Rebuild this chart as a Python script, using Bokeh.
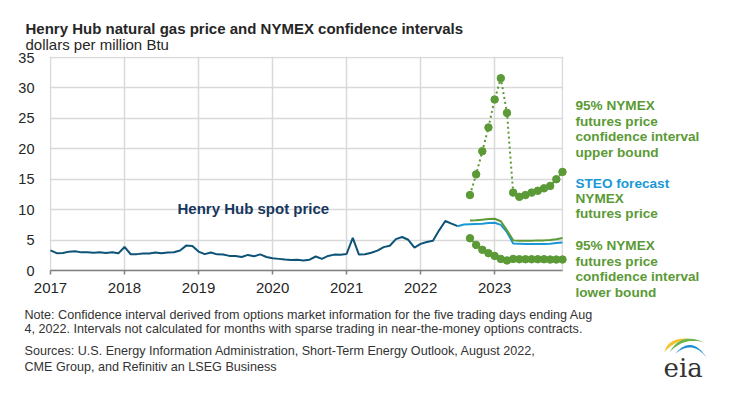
from bokeh.plotting import figure
from bokeh.models import Range1d, FixedTicker, Label, BoxAnnotation
from bokeh.embed import file_html
from bokeh.resources import INLINE

# ---------------- data ----------------
title_text = "Henry Hub natural gas price and NYMEX confidence intervals"
subtitle_text = "dollars per million Btu"
year_labels = ["2017", "2018", "2019", "2020", "2021", "2022", "2023"]
y_ticks = [0, 5, 10, 15, 20, 25, 30, 35]

# Henry Hub spot price, monthly, Jan 2017 - Jul 2022
spot_price = [
    3.30, 2.85, 2.88, 3.10, 3.15, 2.98, 2.98, 2.90, 2.98, 2.88, 3.01, 2.82,
    3.87, 2.67, 2.69, 2.80, 2.80, 2.97, 2.83, 2.96, 3.00, 3.28, 4.09, 4.04,
    3.11, 2.69, 2.95, 2.65, 2.64, 2.40, 2.37, 2.22, 2.56, 2.33, 2.65, 2.22,
    2.02, 1.91, 1.79, 1.74, 1.75, 1.63, 1.77, 2.30, 1.92, 2.39, 2.61, 2.59,
    2.71, 5.35, 2.62, 2.66, 2.91, 3.26, 3.84, 4.07, 5.16, 5.51, 5.05, 3.76,
    4.38, 4.69, 4.90, 6.60, 8.14, 7.70, 7.28,
]
# STEO forecast, Jul 2022 - Dec 2023
steo_forecast = [7.28, 7.55, 7.60, 7.65, 7.70, 7.80, 7.85, 7.50, 6.30,
                 4.45, 4.40, 4.35, 4.35, 4.35, 4.35, 4.40, 4.50, 4.60]
# NYMEX futures price, Sep 2022 - Dec 2023
nymex_futures = [8.20, 8.25, 8.35, 8.45, 8.50, 8.10, 6.60, 4.95,
                 4.90, 4.90, 4.90, 4.95, 4.95, 5.00, 5.15, 5.35]
# 95% confidence interval bounds, Sep 2022 - Dec 2023
upper_bound = [12.4, 15.8, 19.6, 23.5, 28.1, 31.6, 25.9, 12.8,
               12.1, 12.4, 12.8, 13.1, 13.5, 13.9, 15.0, 16.2]
lower_bound = [5.3, 4.2, 3.4, 2.85, 2.4, 1.9, 1.65, 1.9,
               1.85, 1.85, 1.85, 1.85, 1.85, 1.8, 1.8, 1.8]

note_lines = [
    "Note: Confidence interval derived from options market information for the five trading days ending Aug",
    "4, 2022. Intervals not calculated for months with sparse trading in near-the-money options contracts.",
]
source_lines = [
    "Sources: U.S. Energy Information Administration, Short-Term Energy Outlook, August 2022,",
    "CME Group, and Refinitiv an LSEG Business",
]
upper_label = ["95% NYMEX", "futures price", "confidence interval", "upper bound"]
mid_label_blue = ["STEO forecast"]
mid_label_green = ["NYMEX", "futures price"]
lower_label = ["95% NYMEX", "futures price", "confidence interval", "lower bound"]
spot_label = "Henry Hub spot price"
logo_text = "eia"

# month index (0 = Jan 2017)
spot_x = list(range(len(spot_price)))
steo_x = list(range(len(spot_price) - 1, len(spot_price) - 1 + len(steo_forecast)))
nymex_start = 68
nymex_x = list(range(nymex_start, nymex_start + len(nymex_futures)))
x_end = steo_x[-1]

# ---------------- styling / layout ----------------
DARK = "#0d5378"
BLUE = "#1a98d5"
GREEN = "#5b9a36"
GRID = "#d9d9d9"
TXT = "#262626"
NOTE = "#333333"
SANS = "Liberation Sans"

W, H = 740, 396
PLOT_L, PLOT_R = 50, 562        # page x of first and last month
PLOT_T, PLOT_B = 57, 270        # page y of top tick and zero line
px_per_month = (PLOT_R - PLOT_L) / x_end
px_per_unit = (PLOT_B - PLOT_T) / (y_ticks[-1] - y_ticks[0])
x_min = -PLOT_L / px_per_month
x_max = (W - PLOT_L) / px_per_month
y_max = y_ticks[-1] + PLOT_T / px_per_unit
y_min = y_ticks[0] - (H - PLOT_B) / px_per_unit


def dx(px):
    return x_min + px / px_per_month


def dy(py):
    return y_max - py / px_per_unit


p = figure(width=W, height=H, output_backend="svg", toolbar_location=None,
           title_location=None,
           x_range=Range1d(x_min, x_max), y_range=Range1d(y_min, y_max),
           min_border=0, min_border_left=0, min_border_right=0,
           min_border_top=0, min_border_bottom=0,
           background_fill_color="white", border_fill_color="white")
p.outline_line_color = None

year_ticks = [12 * i for i in range(len(year_labels))]
p.xaxis.fixed_location = y_ticks[0]
p.xaxis.ticker = FixedTicker(ticks=year_ticks)
p.xaxis.major_label_overrides = {t: l for t, l in zip(year_ticks, year_labels)}
p.xaxis.bounds = (0, x_end)
p.xaxis.axis_line_color = "#808080"
p.xaxis.axis_line_width = 1.5
p.xaxis.major_tick_line_color = "#808080"
p.xaxis.major_tick_line_width = 1.5
p.xaxis.major_tick_in = 0
p.xaxis.major_tick_out = 4
p.xaxis.minor_tick_line_color = None
p.xaxis.major_label_standoff = 8
p.xaxis.major_label_text_font = SANS
p.xaxis.major_label_text_font_size = "15px"
p.xaxis.major_label_text_color = TXT

p.yaxis.fixed_location = 0
p.yaxis.ticker = FixedTicker(ticks=y_ticks)
p.yaxis.bounds = (y_ticks[0], y_ticks[-1])
p.yaxis.axis_line_color = None
p.yaxis.major_tick_line_color = None
p.yaxis.minor_tick_line_color = None
p.yaxis.major_tick_in = 0
p.yaxis.major_tick_out = 0
p.yaxis.major_label_standoff = 16
p.yaxis.major_label_text_font = SANS
p.yaxis.major_label_text_font_size = "14.5px"
p.yaxis.major_label_text_color = TXT

p.xgrid.ticker = FixedTicker(ticks=year_ticks + [x_end])
p.ygrid.ticker = FixedTicker(ticks=y_ticks)
p.grid.grid_line_color = GRID
p.grid.grid_line_width = 1.5

# white masks so the grid only covers the plot area
pad_x = 0.75 / px_per_month
pad_y = 0.75 / px_per_unit
for kw in (dict(bottom=y_ticks[-1] + pad_y), dict(top=y_ticks[0] - pad_y),
           dict(right=0 - pad_x), dict(left=x_end + pad_x)):
    p.add_layout(BoxAnnotation(fill_color="white", fill_alpha=1, line_color=None,
                               level="underlay", **kw))

# ---------------- data glyphs ----------------
p.line(spot_x, spot_price, line_color=DARK, line_width=2)
p.line(steo_x, steo_forecast, line_color=BLUE, line_width=2)
p.line(nymex_x, nymex_futures, line_color=GREEN, line_width=2)
p.line(nymex_x, upper_bound, line_color=GREEN, line_width=2, line_dash="2 3")
p.scatter(nymex_x, upper_bound, size=7.5, fill_color=GREEN, line_color=GREEN)
p.line(nymex_x, lower_bound, line_color=GREEN, line_width=1.5)
p.scatter(nymex_x, lower_bound, size=7.5, fill_color=GREEN, line_color=GREEN)


# ---------------- texts (positions in page pixels) ----------------
def add_label(txt, px, py, size, color=TXT, bold=False, font=SANS):
    p.add_layout(Label(x=dx(px), y=dy(py), text=txt, text_font=font, text_font_size=size,
                       text_font_style="bold" if bold else "normal", text_color=color,
                       text_baseline="alphabetic", text_align="left"))


add_label(title_text, 25, 27.5, "15px", TXT, True)
add_label(subtitle_text, 25, 44, "15px", TXT)
add_label(spot_label, 177, 207.5, "15px", "#17375e", True)

for i, t in enumerate(upper_label):
    add_label(t, 575, 105 + 15.6 * i, "13.6px", GREEN, True)
add_label(mid_label_blue[0], 575, 183.3, "13.6px", BLUE, True)
for i, t in enumerate(mid_label_green):
    add_label(t, 575, 198.3 + 15 * i, "13.6px", GREEN, True)
for i, t in enumerate(lower_label):
    add_label(t, 575, 245 + 15.7 * i, "13.6px", GREEN, True)

NOTE_SIZE = "12.6px"
add_label(note_lines[0], 24, 314.3, NOTE_SIZE, NOTE)
add_label(note_lines[1], 24, 328.5, NOTE_SIZE, NOTE)
add_label(source_lines[0], 24, 350, NOTE_SIZE, NOTE)
add_label(source_lines[1], 24, 366, NOTE_SIZE, NOTE)
add_label(logo_text, 663, 367, "26px", "#333333", False, "DejaVu Serif")


def swoosh(p0, c_in, c_out, p2, color, n=16):
    pts_out, pts_in = [], []
    for k in range(n + 1):
        t = k / n
        for c, acc in ((c_out, pts_out), (c_in, pts_in)):
            bx = (1 - t) ** 2 * p0[0] + 2 * (1 - t) * t * c[0] + t ** 2 * p2[0]
            by = (1 - t) ** 2 * p0[1] + 2 * (1 - t) * t * c[1] + t ** 2 * p2[1]
            acc.append((dx(bx), dy(by)))
    pts = pts_out + pts_in[::-1]
    p.patch([q[0] for q in pts], [q[1] for q in pts], fill_color=color, line_color=None)


swoosh((664, 352), (671, 342), (667, 337), (688, 338), "#f2c12e")
swoosh((669, 352), (683, 336), (680, 331), (704, 342), "#6bb34a")
swoosh((675, 353), (692, 339), (691, 334), (706, 357), "#1d8fd1")

open("out.html", "w").write(file_html(p, INLINE))
